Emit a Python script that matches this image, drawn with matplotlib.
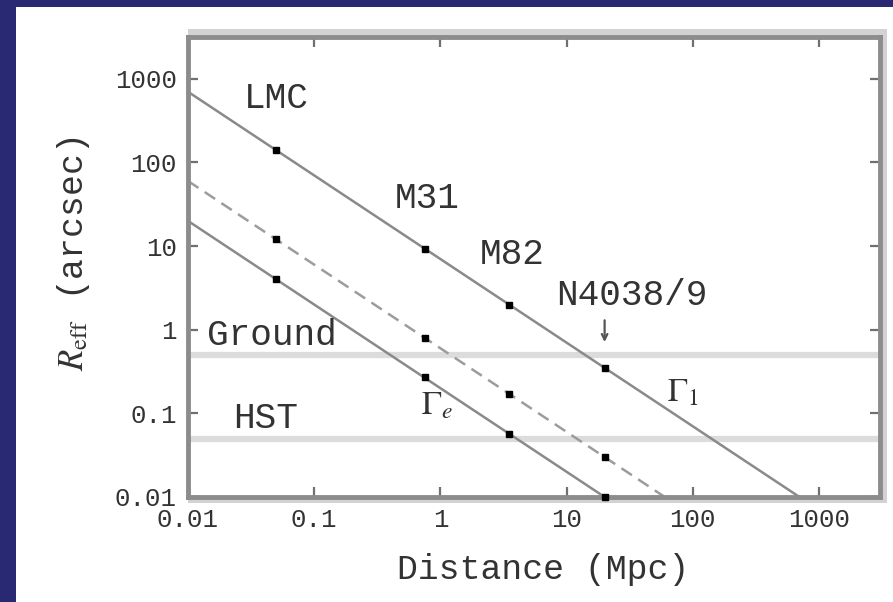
import matplotlib

matplotlib.rcParams['mathtext.fontset'] = 'stix'
matplotlib.rcParams['font.family'] = ['Liberation Mono', 'DejaVu Sans']

import matplotlib.pyplot as plt
import matplotlib.patches as patches
from matplotlib.ticker import FixedLocator, NullLocator

# galaxy distances (Mpc) and apparent radii (arcsec)
dist = [0.05, 0.75, 3.5, 20]
r_gamma1 = [140, 9.3, 2.0, 0.35]
r_mid = [12, 0.8, 0.17, 0.03]
r_gammae = [4.0, 0.27, 0.057, 0.01]

# end points of the three lines
line1_d = [0.01, 700]
line1_r = [700, 0.01]
mid_d = [0.01, 60]
mid_r = [60, 0.01]
linee_d = [0.01, 20]
linee_r = [20, 0.01]

# resolution limits
r_ground = 0.5
r_hst = 0.05

ticks = [0.01, 0.1, 1, 10, 100, 1000]
tick_labels = ['0.01', '0.1', '1', '10', '100', '1000']

txt = '#333333'
gray = '#8a8a8a'

fig = plt.figure(figsize=(8.93, 6.02), dpi=100, facecolor='#292873')
fig.patches.append(patches.Rectangle((16 / 893, 0), 1 - 16 / 893, 1 - 7 / 602,
                                     transform=fig.transFigure,
                                     facecolor='white', edgecolor='none',
                                     zorder=-5))
# light shadow round the frame
fig.patches.append(patches.Rectangle((188 / 893, 1 - 503 / 602),
                                     (887 - 188) / 893, (503 - 29) / 602,
                                     transform=fig.transFigure,
                                     facecolor='#d2d2d2', edgecolor='none',
                                     zorder=-4))

ax = fig.add_axes([188 / 893, 105 / 602, 692 / 893, 460 / 602])
ax.set_zorder(2)
ax.set_xscale('log')
ax.set_yscale('log')
ax.set_xlim(0.01, 10 ** 3.483)
ax.set_ylim(0.01, 10 ** 3.5)

ax.axhline(r_ground, color='#dcdcdc', linewidth=4.5, zorder=1)
ax.axhline(r_hst, color='#dcdcdc', linewidth=4.5, zorder=1)

ax.plot(line1_d, line1_r, color=gray, linewidth=1.8, zorder=2)
ax.plot(mid_d, mid_r, color='#9c9c9c', linewidth=1.8,
        linestyle=(0, (5, 3)), zorder=2)
ax.plot(linee_d, linee_r, color=gray, linewidth=1.8, zorder=2)

for r in (r_gamma1, r_mid, r_gammae):
    ax.plot(dist, r, 's', color='black', markersize=4.5,
            clip_on=False, zorder=5)

ax.text(0.05, 575, 'LMC', fontsize=26, color=txt, ha='center', va='center')
ax.text(0.78, 37, 'M31', fontsize=26, color=txt, ha='center', va='center')
ax.text(3.7, 8.0, 'M82', fontsize=26, color=txt, ha='center', va='center')
ax.text(33, 2.6, 'N4038/9', fontsize=26, color=txt, ha='center', va='center')
ax.text(0.046, 0.85, 'Ground', fontsize=26, color=txt, ha='center', va='center')
ax.text(0.041, 0.087, 'HST', fontsize=26, color=txt, ha='center', va='center')
ax.text(0.93, 0.123, r'$\Gamma_e$', fontsize=24, color=txt,
        ha='center', va='center')
ax.text(83, 0.177, r'$\Gamma_1$', fontsize=24, color=txt,
        ha='center', va='center')

ax.annotate('', xy=(20, 0.66), xytext=(20, 1.4),
            arrowprops=dict(arrowstyle='->', color='#555555', lw=1.6))

ax.xaxis.set_major_locator(FixedLocator(ticks))
ax.yaxis.set_major_locator(FixedLocator(ticks))
ax.set_xticklabels(tick_labels)
ax.set_yticklabels(tick_labels)
ax.xaxis.set_minor_locator(NullLocator())
ax.yaxis.set_minor_locator(NullLocator())
ax.tick_params(which='major', direction='in', length=7, width=1.6,
               color='#707070', top=True, right=True,
               labelsize=18.5, labelcolor=txt, pad=8)

for s in ax.spines.values():
    s.set_color('#8c8c8c')
    s.set_linewidth(3.5)

fig.text(74 / 893, 1 - 254 / 602, r'$R_{\rm eff}$ (arcsec)', fontsize=25,
         color=txt, rotation=90, ha='center', va='center')
fig.text(543 / 893, 1 - 570 / 602, 'Distance (Mpc)', fontsize=25,
         color=txt, ha='center', va='center')

fig.savefig('out.png', dpi=100, facecolor=fig.get_facecolor())
